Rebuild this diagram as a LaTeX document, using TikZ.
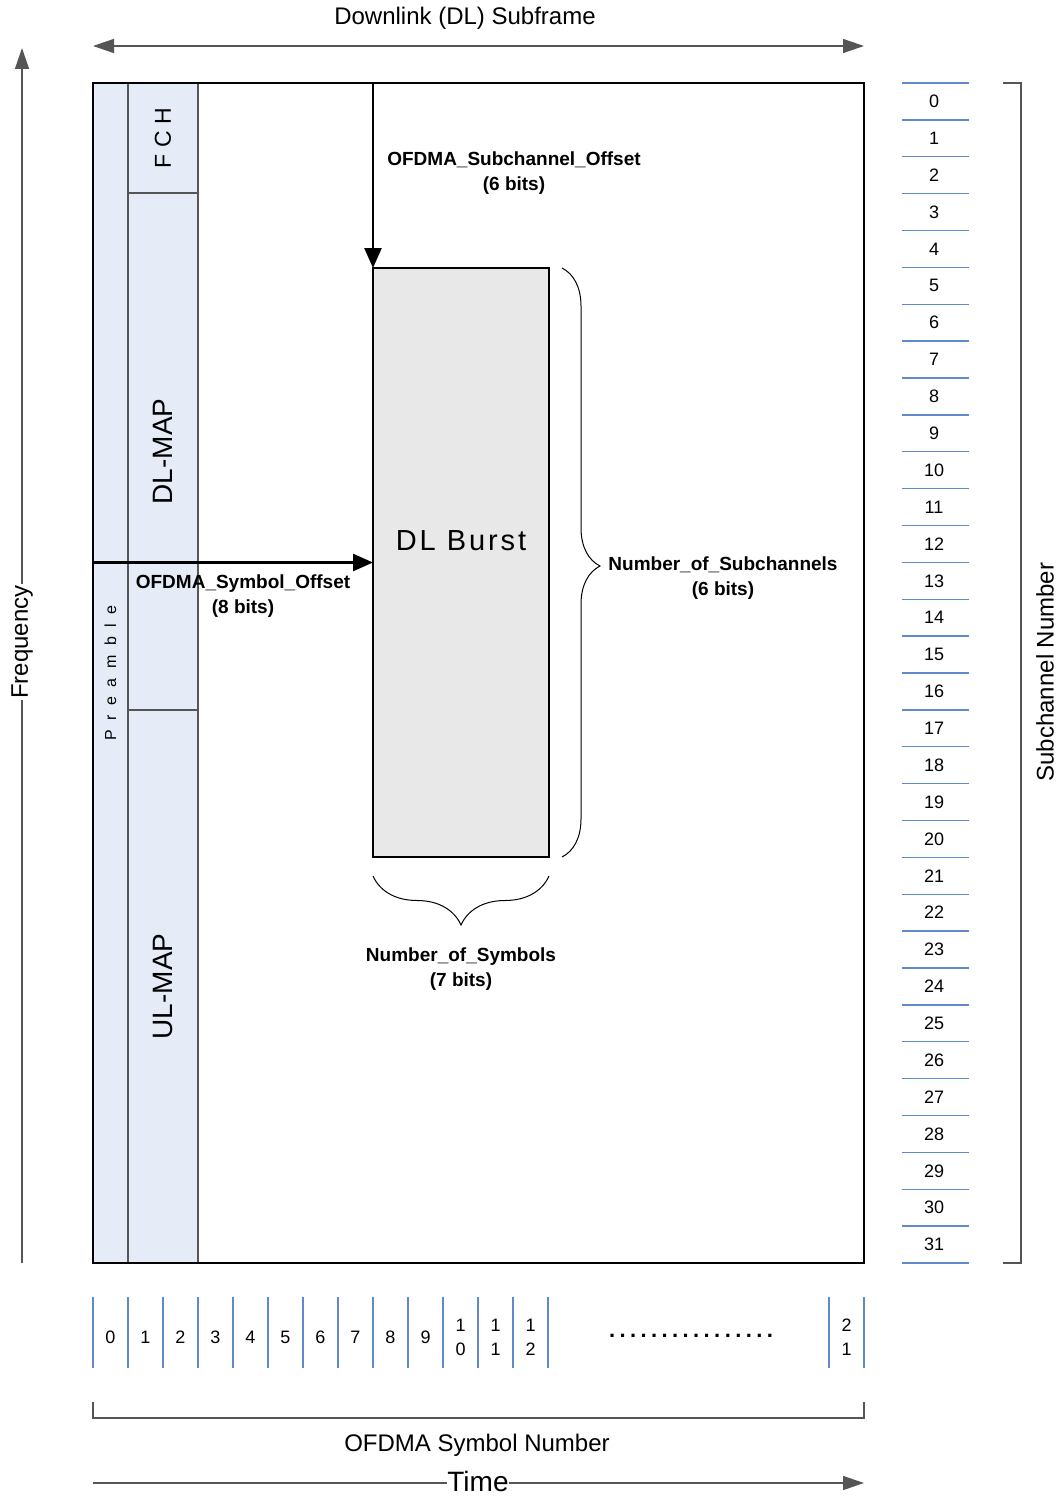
\documentclass[tikz,border=0pt]{standalone}
\usepackage{fontspec}
\setmainfont{Liberation Sans}
\usetikzlibrary{arrows.meta,decorations.pathreplacing}

\definecolor{colblue}{RGB}{230,236,247}
\definecolor{burstgray}{RGB}{232,232,232}
\definecolor{edgegray}{RGB}{85,85,85}
\definecolor{tickblue}{RGB}{96,138,206}

\tikzset{
  col/.style={draw=edgegray, fill=colblue, line width=1.5pt, inner sep=0pt, outer sep=0pt, rotate=90},
  bitlabel/.style={font=\fontsize{19}{25}\selectfont\bfseries, align=center},
  axislabel/.style={font=\fontsize{24}{28}\selectfont},
  numlabel/.style={font=\fontsize{18}{24}\selectfont, align=center, inner sep=0pt},
  tickline/.style={draw=tickblue, line width=1.3pt},
  bigarrow/.style={-{Triangle[length=20pt,width=17pt]}, line width=2.5pt},
  axisarrow/.style={draw=edgegray, line width=1.5pt, -{Triangle[length=21pt,width=14pt]}},
}

\begin{document}
\begin{tikzpicture}[x=1pt, y=-1pt]
\useasboundingbox (0,0) rectangle (1061,1496);

% subframe columns
\node[col, minimum width=1180pt, minimum height=35pt, font=\fontsize{16}{18}\selectfont\addfontfeature{LetterSpace=60}] (pre) at (110.5,673) {Preamble};
\node[col, minimum width=110pt, minimum height=70pt, font=\fontsize{23}{26}\selectfont\addfontfeature{LetterSpace=28}] (fch) at (163,138) {FCH};
\node[col, minimum width=517pt, minimum height=70pt, font=\fontsize{28}{32}\selectfont] (dlmap) at (163,451.5) {DL-MAP};
\node[col, minimum width=553pt, minimum height=70pt, font=\fontsize{28}{32}\selectfont] (ulmap) at (163,986.5) {UL-MAP};

% frame and burst
\node[draw, line width=1.3pt, minimum width=771pt, minimum height=1180pt, inner sep=0pt, outer sep=0pt] (frame) at (478.5,673) {};
\node[draw, fill=burstgray, line width=1.3pt, minimum width=176pt, minimum height=589pt, inner sep=0pt, outer sep=0pt] (burst) at (461,562.5) {};
\node[font=\fontsize{29}{32}\selectfont\addfontfeature{LetterSpace=10}] (burstlbl) at (461,541) {DL Burst};

% offsets
\draw[bigarrow] (burst.north west |- frame.north) -- (burst.north west);
\draw[bigarrow] (frame.west |- burst.west) -- (burst.west);
\node[bitlabel] (suboff) at (514,173) {OFDMA\_Subchannel\_Offset\\(6 bits)};
\node[bitlabel] (symoff) at (243,596.5) {OFDMA\_Symbol\_Offset\\(8 bits)};

% braces
\draw[decorate, decoration={brace, amplitude=38pt, aspect=0.506}, line width=1pt] ([xshift=13pt]burst.north east) -- ([xshift=13pt]burst.south east);
\node[bitlabel] (nsub) at (723,578.5) {Number\_of\_Subchannels\\(6 bits)};
\draw[decorate, decoration={brace, amplitude=49pt}, line width=1pt] ([yshift=-19pt]burst.south east) -- ([yshift=-19pt]burst.south west);
\node[bitlabel] (nsym) at (461,969.5) {Number\_of\_Symbols\\(7 bits)};

% axes
\draw[axisarrow, {Triangle[length=21pt,width=14pt]}-{Triangle[length=21pt,width=14pt]}] ([yshift=37pt]frame.north west) -- ([yshift=37pt]frame.north east);
\node[axislabel] (dlsub) at (465,18) {Downlink (DL) Subframe};
\draw[axisarrow] ([xshift=-71pt]frame.south west) -- ([xshift=-71pt, yshift=35pt]frame.north west);
\node[axislabel, rotate=90, fill=white, inner sep=1pt] (freq) at (22,642) {Frequency};
\draw[axisarrow] ([yshift=-220pt]frame.south west) -- ([yshift=-220pt]frame.south east);
\node[font=\fontsize{28}{30}\selectfont, fill=white, inner sep=0.5pt] (time) at (478,1481) {Time};

% subchannel scale
\foreach \i in {0,...,32}
  \draw[tickline] (902,{83+\i*36.875}) -- (969,{83+\i*36.875});
\foreach \i in {0,...,31}
  \node[numlabel] (sc\i) at (934,{83+(\i+0.5)*36.875}) {\i};
\draw[draw=edgegray, line width=1.3pt] ([xshift=139pt]frame.north east) -- ([xshift=157pt]frame.north east) -- ([xshift=157pt]frame.south east) -- ([xshift=139pt]frame.south east);
\node[axislabel, rotate=90] (scnum) at (1045,672) {Subchannel Number};

% symbol scale
\foreach \i in {0,...,13}
  \draw[tickline] ({93+35*\i},1297) -- ({93+35*\i},1368);
\foreach \x in {829,864}
  \draw[tickline] (\x,1297) -- (\x,1368);
\foreach \i in {0,...,9}
  \node[numlabel] (sym\i) at ({110.5+35*\i},1337) {\i};
\foreach \i/\a/\b in {10/1/0,11/1/1,12/1/2}
  \node[numlabel] (sym\i) at ({110.5+35*\i},1337) {\a\\\b};
\node[numlabel] (sym21) at (846.5,1337) {2\\1};
\node[numlabel, font=\fontsize{22}{24}\selectfont\bfseries\addfontfeature{LetterSpace=20}] (dots) at (691,1336) {................};
\draw[draw=edgegray, line width=1.3pt] ([yshift=-139pt]frame.south west) -- ([yshift=-155pt]frame.south west) -- ([yshift=-155pt]frame.south east) -- ([yshift=-139pt]frame.south east);
\node[axislabel] (symnum) at (477,1445) {OFDMA Symbol Number};
\end{tikzpicture}
\end{document}
